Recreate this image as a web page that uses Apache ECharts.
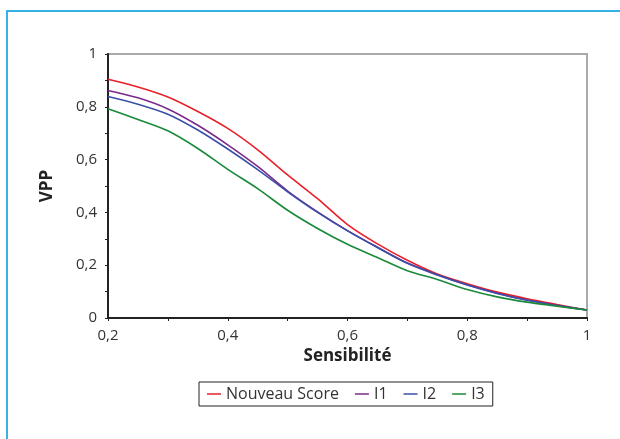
<!DOCTYPE html>
<html><head><meta charset="utf-8">
<script src="https://cdn.jsdelivr.net/npm/echarts@6/dist/echarts.min.js"></script>
<style>html,body{margin:0;padding:0;background:#fff}#c{width:620px;height:439px}</style>
</head><body><div id="c"></div>
<script>
const sensibilite = [0.20, 0.25, 0.30, 0.35, 0.40, 0.45, 0.50, 0.55, 0.60, 0.65, 0.70, 0.75, 0.80, 0.85, 0.90, 0.95, 1.00];
const nouveauScore = [0.904, 0.875, 0.837, 0.782, 0.718, 0.637, 0.542, 0.452, 0.354, 0.281, 0.219, 0.167, 0.130, 0.098, 0.073, 0.051, 0.030];
const i1 = [0.862, 0.834, 0.792, 0.730, 0.656, 0.574, 0.481, 0.402, 0.331, 0.268, 0.208, 0.164, 0.126, 0.094, 0.068, 0.048, 0.030];
const i2 = [0.839, 0.810, 0.772, 0.712, 0.640, 0.562, 0.478, 0.400, 0.330, 0.267, 0.207, 0.163, 0.125, 0.093, 0.067, 0.047, 0.030];
const i3 = [0.793, 0.752, 0.709, 0.642, 0.563, 0.490, 0.408, 0.339, 0.279, 0.229, 0.179, 0.146, 0.108, 0.080, 0.060, 0.045, 0.030];
const seriesNames = ['Nouveau Score', 'I1', 'I2', 'I3'];
const seriesColors = ['#e8202a', '#7b2a8a', '#3a4fa8', '#1a8a3a'];
const seriesValues = [nouveauScore, i1, i2, i3];

const fmt = v => (Math.round(v * 10) / 10).toString().replace('.', ',');
const font = '"Open Sans", Lato, sans-serif';
const chart = echarts.init(document.getElementById('c'));
chart.setOption({
  animation: false,
  textStyle: { fontFamily: font },
  graphic: [{
    type: 'polyline', silent: true,
    shape: { points: [[7, 439], [7, 11], [620, 11]] },
    style: { stroke: '#35b3e6', lineWidth: 2, fill: null }
  }],
  grid: { left: 108, right: 33, top: 54, bottom: 121, show: true, borderColor: '#aaaaaa', borderWidth: 2 },
  xAxis: {
    type: 'value', min: 0.2, max: 1, interval: 0.2,
    name: 'Sensibilité', nameLocation: 'middle', nameGap: 30,
    nameTextStyle: { fontSize: 17, fontWeight: 'bold', color: '#222', fontFamily: font },
    axisLine: { show: true, lineStyle: { color: '#222', width: 2 } },
    axisTick: { show: true, length: 3, lineStyle: { color: '#222' } },
    minorTick: { show: true, splitNumber: 2, length: 3, lineStyle: { color: '#222' } },
    splitLine: { show: false },
    axisLabel: { formatter: fmt, fontSize: 15, color: '#333', margin: 10, fontFamily: font }
  },
  yAxis: {
    type: 'value', min: 0, max: 1, interval: 0.2,
    name: 'VPP', nameLocation: 'middle', nameGap: 52,
    nameTextStyle: { fontSize: 17, fontWeight: 'bold', color: '#222', fontFamily: font },
    axisLine: { show: true, lineStyle: { color: '#222', width: 2 } },
    axisTick: { show: true, length: 3, lineStyle: { color: '#222' } },
    minorTick: { show: true, splitNumber: 2, length: 3, lineStyle: { color: '#222' } },
    splitLine: { show: false },
    axisLabel: { formatter: fmt, fontSize: 15, color: '#333', margin: 11, fontFamily: font }
  },
  legend: {
    left: 199, top: 382,
    padding: [4, 8], itemGap: 16,
    borderColor: '#222', borderWidth: 1,
    itemWidth: 14, itemHeight: 10,
    textStyle: { fontSize: 16, color: '#333', fontFamily: font },
    data: seriesNames.map(n => ({ name: n, icon: 'path://M0,0 L14,0 L14,1.5 L0,1.5 Z' }))
  },
  series: seriesNames.map((n, k) => ({
    name: n, type: 'line', symbol: 'none', smooth: 0.3,
    color: seriesColors[k],
    lineStyle: { width: 1.6, color: seriesColors[k] },
    data: sensibilite.map((x, i) => [x, seriesValues[k][i]])
  }))
});
</script></body></html>
